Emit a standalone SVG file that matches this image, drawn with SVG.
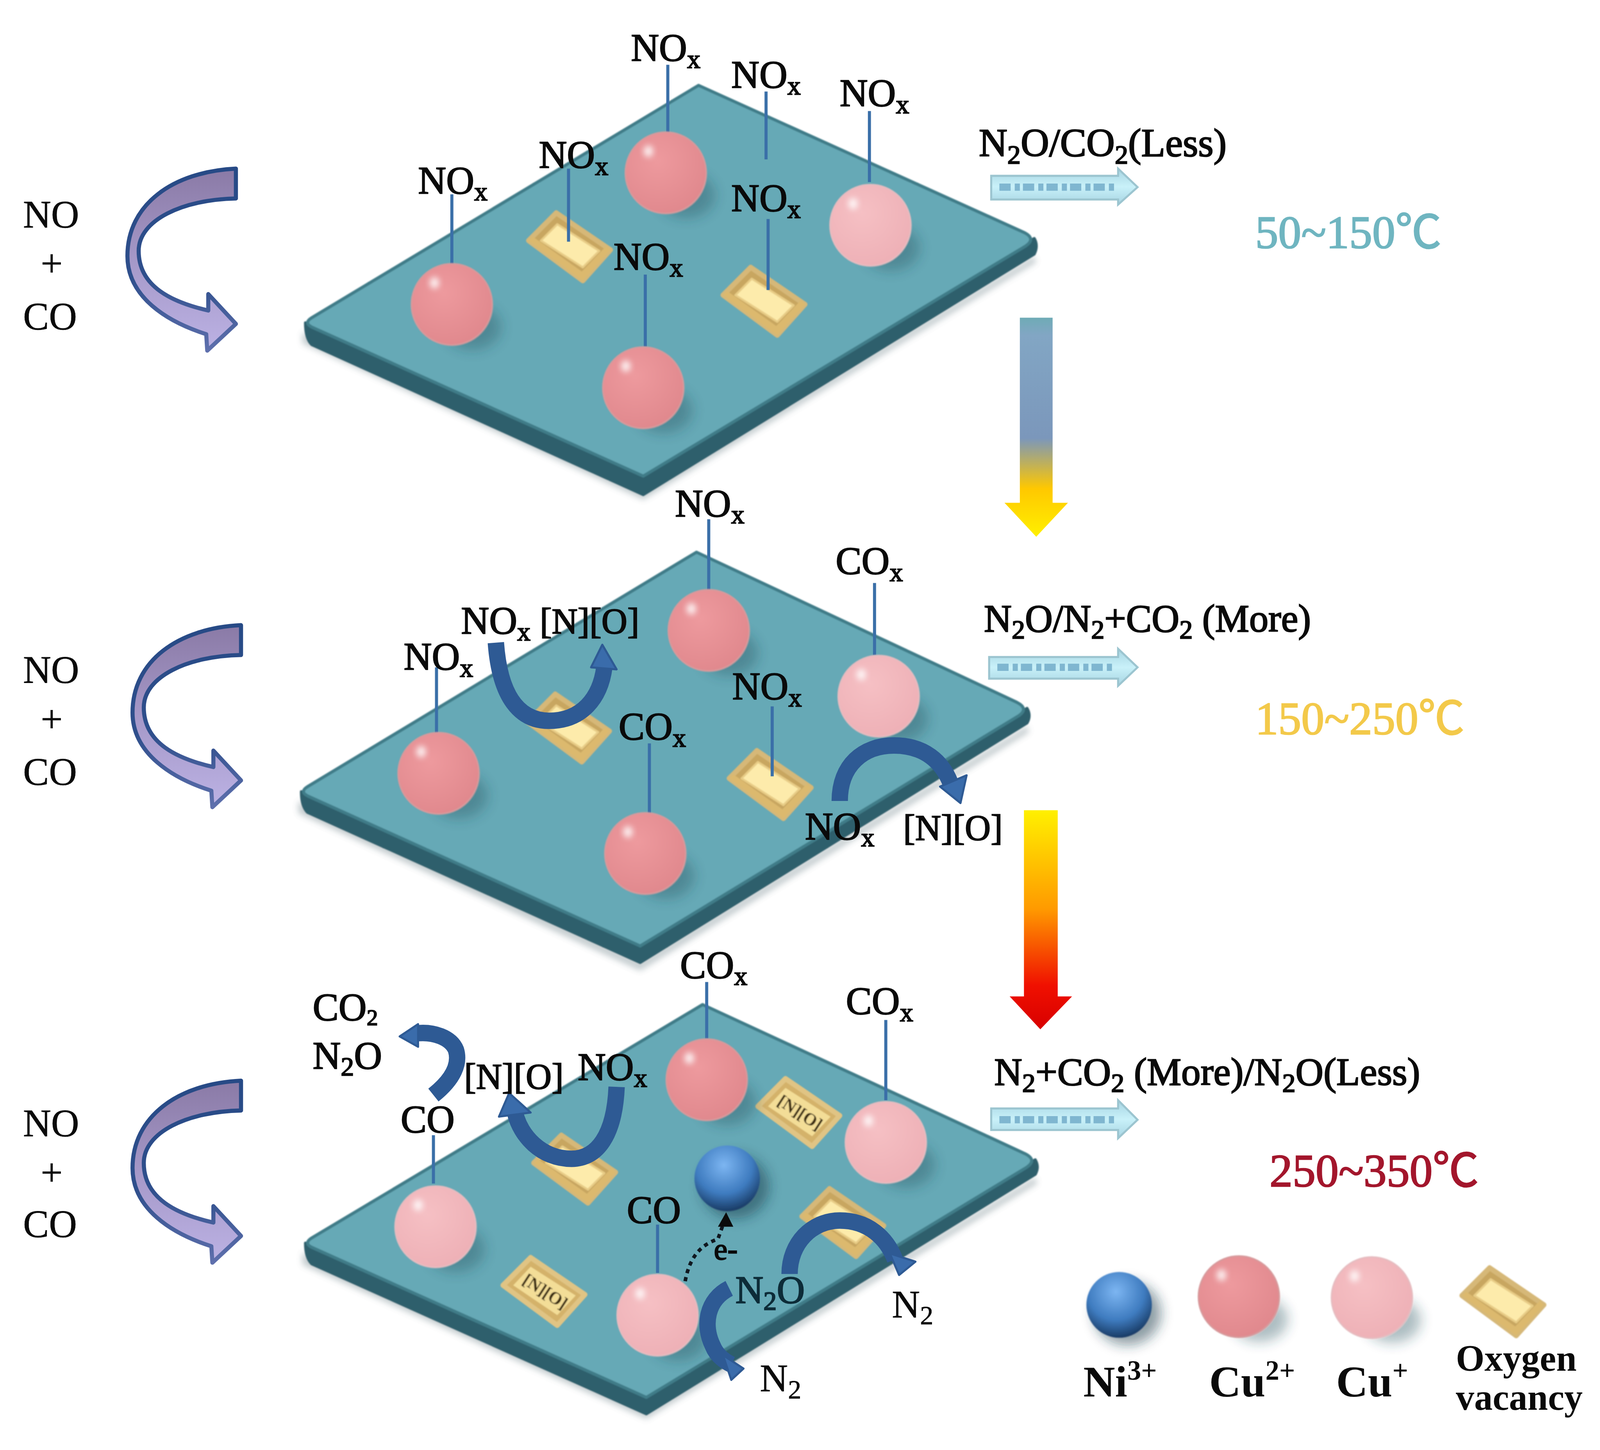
<svg xmlns="http://www.w3.org/2000/svg" width="4108" height="3713" viewBox="0 0 4108 3713">
<style>
text{font-family:"Liberation Serif","Noto Sans CJK SC",serif;fill:#0a0a0a}
.t{font-size:38px;stroke:#0a0a0a;stroke-width:.9px}
.b{font-size:35px;stroke:#0a0a0a;stroke-width:.9px}
.p{font-size:37.500px;stroke:#0a0a0a;stroke-width:1px}
.s{font-size:26px}
.r{font-size:38px;stroke:#0a0a0a;stroke-width:.3px}
.leg{font-size:43px;font-weight:bold}
.leg2{font-size:36px;font-weight:bold}
.temp{font-size:45px;stroke-width:1px}
.vt{font-size:17px;font-weight:bold;fill:#3a2c10}
.top{fill:#66a9b6;stroke:#3f7c88;stroke-width:3;stroke-linejoin:round}
.side{fill:#2f5f6c;stroke:#2f5f6c;stroke-width:3;stroke-linejoin:round}
.stem{stroke:#3a6fa8;stroke-width:3;fill:none}
.curl{fill:none;stroke:#2e5a94;stroke-width:16}
.head{fill:#3a6cab;stroke:#2e5a94;stroke-width:2;stroke-linejoin:round}
.big{fill:url(#purple);stroke:url(#purpleEdge);stroke-width:4;stroke-linejoin:round}
.out{fill:url(#cyan);stroke:#9cc5d0;stroke-width:2}
.tex{stroke:#7fb6d0;stroke-width:7;stroke-dasharray:11 4 5 3;fill:none}
</style>
<defs>
<linearGradient id="purple" x1="0" y1="0" x2="0" y2="1"><stop offset="0" stop-color="#8a7aa6"/><stop offset=".5" stop-color="#a598c8"/><stop offset="1" stop-color="#bcb2e4"/></linearGradient>
<linearGradient id="purpleEdge" x1="0" y1="0" x2="0" y2="1"><stop offset="0" stop-color="#274a86"/><stop offset=".6" stop-color="#2f4f8c"/><stop offset="1" stop-color="#5f70ad"/></linearGradient>
<linearGradient id="cyan" x1="0" y1="0" x2="0" y2="1"><stop offset="0" stop-color="#a6d4e2"/><stop offset=".5" stop-color="#c9f1f9"/><stop offset="1" stop-color="#a6d4e2"/></linearGradient>
<linearGradient id="down1" x1="0" y1="0" x2="0" y2="1"><stop offset="0" stop-color="#6fabb6"/><stop offset=".08" stop-color="#82a6c4"/><stop offset=".55" stop-color="#7b97bb"/><stop offset=".78" stop-color="#ffc800"/><stop offset="1" stop-color="#fff000"/></linearGradient>
<linearGradient id="down2" x1="0" y1="0" x2="0" y2="1"><stop offset="0" stop-color="#fff000"/><stop offset=".45" stop-color="#ff9a00"/><stop offset=".8" stop-color="#f01000"/><stop offset="1" stop-color="#d80000"/></linearGradient>
<radialGradient id="cu2" cx=".4" cy=".35" r=".7"><stop offset="0" stop-color="#ee9a9e"/><stop offset="1" stop-color="#e0888d"/></radialGradient>
<radialGradient id="cu1" cx=".4" cy=".35" r=".7"><stop offset="0" stop-color="#f6c0c4"/><stop offset="1" stop-color="#eeb0b6"/></radialGradient>
<radialGradient id="ni" cx=".45" cy=".3" r=".72"><stop offset="0" stop-color="#7db6f2"/><stop offset=".6" stop-color="#3f7cc0"/><stop offset="1" stop-color="#17375f"/></radialGradient>
<filter id="b3" x="-50%" y="-50%" width="200%" height="200%"><feGaussianBlur stdDeviation="3"/></filter>
<filter id="b6" x="-50%" y="-50%" width="200%" height="200%"><feGaussianBlur stdDeviation="6"/></filter>
<filter id="b1" x="-20%" y="-20%" width="140%" height="140%"><feGaussianBlur stdDeviation=".7"/></filter>
<g id="sCu2"><ellipse cx="20" cy="22" rx="28" ry="22" fill="#2c5560" opacity=".38" filter="url(#b6)"/><circle r="39.500" fill="url(#cu2)" stroke="#d79a9c" stroke-width="1.500"/><ellipse cx="-17" cy="-21" rx="4.500" ry="5.500" fill="#fff" opacity=".9" filter="url(#b3)"/></g>
<g id="sCu1"><ellipse cx="20" cy="22" rx="28" ry="22" fill="#2c5560" opacity=".38" filter="url(#b6)"/><circle r="39.500" fill="url(#cu1)" stroke="#e6bcc0" stroke-width="1.500"/><ellipse cx="-17" cy="-21" rx="4.500" ry="5.500" fill="#fff" opacity=".9" filter="url(#b3)"/></g>
<g id="sNi"><ellipse cx="8" cy="8" rx="33" ry="31" fill="#1d3a48" opacity=".5" filter="url(#b6)"/><circle r="32" fill="url(#ni)"/></g>
<g id="vac"><path d="M-40,-6 L-13,-33 L40,3 L13,33 Z" fill="#c8a660" stroke="#d6b878" stroke-width="5" stroke-linejoin="round"/><path d="M-28,-6 L-12,-22 L29,4 L13,20 Z" fill="#fdebab" stroke="#e8cc86" stroke-width="2" stroke-linejoin="round"/><path d="M-40,-6 L13,33 L40,3 L36,-1 L12,24 L-36,-10 Z" fill="#dcb96e"/></g>
<g id="vacN"><path d="M-40,-6 L-13,-33 L40,3 L13,33 Z" fill="#d4b26a" stroke="#e0c484" stroke-width="5" stroke-linejoin="round"/><path d="M-30,-6 L-13,-24 L31,4 L13,23 Z" fill="#f3dd97"/><text class="vt" transform="rotate(33) translate(-23,5)">[N][O]</text></g>
</defs>
<rect width="4108" height="3713" fill="#fff"/>
<g transform="scale(2.62 2.633) translate(-1.500,-1)">
<g id="plates" filter="url(#b1)">
<g id="plate1"><path d="M297,324 L630,478 L1012,250 L1014,256 L630,487 L297,335 Z" fill="#7d8f94" opacity=".45" filter="url(#b3)"/><path d="M300,315 L630,464 L1012,233 Q1016,240 1012,248 L630,482 L306,336 Q300,330 300,315 Z" class="side"/><path d="M684,84 L1002,227 Q1014,233 1004,240 L630,464 L306,319 Q298,315 306,310 Z" class="top"/></g>
<g id="plate2"><path d="M293,780 L627,936 L1005,707 L1007,713 L627,945 L293,792 Z" fill="#7d8f94" opacity=".45" filter="url(#b3)"/><path d="M296,771 L627,921 L1005,690 Q1009,697 1005,704 L627,937 L302,791 Q296,785 296,771 Z" class="side"/><path d="M682,538 L995,684 Q1007,690 997,697 L627,921 L302,775 Q294,771 302,766 Z" class="top"/></g>
<g id="plate3"><path d="M297,1219 L633,1372 L1013,1146 L1015,1152 L633,1381 L297,1231 Z" fill="#7d8f94" opacity=".45" filter="url(#b3)"/><path d="M300,1210 L633,1360 L1013,1129 Q1017,1136 1013,1143 L633,1376 L306,1230 Q300,1224 300,1210 Z" class="side"/><path d="M688,978 L1003,1123 Q1015,1129 1005,1136 L633,1360 L306,1214 Q298,1210 306,1205 Z" class="top"/></g>
</g>
<g id="vacancies" filter="url(#b1)">
<use id="vac1" href="#vac" x="558" y="241"/>
<use id="vac2" href="#vac" x="748" y="294"/>
<use id="vac3" href="#vac" x="557" y="709"/>
<use id="vac4" href="#vac" x="754" y="764"/>
<use id="vac5" href="#vac" x="563" y="1138"/>
<use id="vac6" href="#vacN" x="782" y="1083"/>
<use id="vac7" href="#vac" x="825" y="1190"/>
<use id="vac8" href="#vacN" x="533" y="1257"/>
<use id="vacLegend" href="#vac" x="1470" y="1267"/>
</g>
<g id="stems">
<path class="stem" d="M654,64V132M750,90V156M851,109V178M557,165V236M752,214V283M632,268V338M443,190V258"/>
<path class="stem" d="M694,506V575M856,568V638M428,650V715M636,724V793M756,688V756"/>
<path class="stem" d="M692,956V1011M867,993V1071M425,1105V1152M644,1192V1239"/>
</g>
<g id="spheres" filter="url(#b1)">
<use id="p1a" href="#sCu2" x="652" y="169"/>
<use id="p1b" href="#sCu2" x="443" y="297"/>
<use id="p1c" href="#sCu2" x="630" y="378"/>
<use id="p1d" href="#sCu1" x="852" y="220"/>
<use id="p2a" href="#sCu2" x="694" y="614"/>
<use id="p2b" href="#sCu2" x="430" y="753"/>
<use id="p2c" href="#sCu2" x="632" y="831"/>
<use id="p2d" href="#sCu1" x="860" y="678"/>
<use id="p3a" href="#sCu2" x="692" y="1051"/>
<use id="p3b" href="#sCu1" x="867" y="1112"/>
<use id="p3c" href="#sCu1" x="427" y="1194"/>
<use id="p3d" href="#sCu1" x="644" y="1280"/>
<use id="p3e" href="#sNi" x="712" y="1147"/>
<use id="legNi" href="#sNi" x="1095" y="1270"/>
<use id="legCu2" href="#sCu2" x="1212" y="1262"/>
<use id="legCu1" href="#sCu1" x="1342" y="1263"/>
</g>
<g id="connectors">
<g id="feed1"><path class="big" d="M232,165 C170,168 126,200 126,250 C126,290 165,314 203,326 L204,342 L232,316 L205,287 L205,303 C170,295 137,280 137,245 C137,215 180,195 232,194 Z"/></g>
<g id="feed2" transform="translate(5,444)"><path class="big" d="M232,165 C170,168 126,200 126,250 C126,290 165,314 203,326 L204,342 L232,316 L205,287 L205,303 C170,295 137,280 137,245 C137,215 180,195 232,194 Z"/></g>
<g id="feed3" transform="translate(5,887)"><path class="big" d="M232,165 C170,168 126,200 126,250 C126,290 165,314 203,326 L204,342 L232,316 L205,287 L205,303 C170,295 137,280 137,245 C137,215 180,195 232,194 Z"/></g>
<path id="down1a" d="M998,310 H1030 V490 H1045 L1014,523 L983,490 H998 Z" fill="url(#down1)"/>
<path id="down2a" d="M1002,789 H1035 V970 H1049 L1018,1002 L988,970 H1002 Z" fill="url(#down2)"/>
<g id="out1"><path class="out" d="M970,172 H1094 V165 L1113,183 L1094,200 V195 H970 Z"/><path class="tex" d="M978,183H1090"/></g>
<g id="out2"><path class="out" d="M968,640 H1094 V632 L1113,650 L1094,668 V661 H968 Z"/><path class="tex" d="M976,650H1088"/></g>
<g id="out3"><path class="out" d="M970,1079 H1094 V1071 L1113,1090 L1094,1108 V1100 H970 Z"/><path class="tex" d="M978,1090H1090"/></g>
<g id="curl1"><path class="curl" d="M486,626 C490,680 510,702 538,702 C570,702 588,680 592,650"/><path class="head" d="M590,628 L604,652 L579,650 Z"/></g>
<g id="curl2"><path class="curl" d="M822,780 C822,745 845,726 875,726 C905,726 922,742 930,762"/><path class="head" d="M940,782 L946,755 L920,766 Z"/></g>
<g id="curl3"><path class="curl" stroke-width="13" d="M425,1066 C445,1050 451,1035 447,1022 C442,1010 425,1004 408,1006"/><path class="head" d="M392,1009 L410,997 L410,1019 Z"/></g>
<g id="curl4"><path class="curl" d="M604,1058 C602,1105 585,1128 560,1128 C530,1128 510,1105 505,1084"/><path class="head" d="M499,1064 L520,1083 L489,1087 Z"/></g>
<g id="curl5"><path class="curl" stroke-width="14" d="M773,1240 C773,1210 795,1188 822,1188 C850,1188 868,1205 876,1226"/><path class="head" d="M896,1228 L880,1241 L871,1220 Z"/></g>
<g id="curl6"><path class="curl" stroke-width="12" d="M714,1254 C692,1265 688,1290 698,1310 C702,1320 710,1325 716,1328"/><path class="head" d="M728,1332 L716,1343 L708,1319 Z"/></g>
<path id="electron" d="M671,1247 C675,1225 685,1212 703,1206 L708,1192" fill="none" stroke="#101820" stroke-width="3.500" stroke-dasharray="4 4"/>
<path id="electronHead" d="M711,1180 L703,1194 L718,1194 Z" fill="#0b0b0b"/>
</g>
<g id="labels1">
<text class="t" x="618" y="60">NO<tspan class="s" dy="7">x</tspan></text>
<text class="t" x="716" y="86">NO<tspan class="s" dy="7">x</tspan></text>
<text class="t" x="822" y="104">NO<tspan class="s" dy="7">x</tspan></text>
<text class="t" x="528" y="164">NO<tspan class="s" dy="7">x</tspan></text>
<text class="t" x="716" y="206">NO<tspan class="s" dy="7">x</tspan></text>
<text class="t" x="601" y="263">NO<tspan class="s" dy="7">x</tspan></text>
<text class="t" x="410" y="189">NO<tspan class="s" dy="7">x</tspan></text>
<text class="p" x="958" y="153" style="font-size:38.500px">N<tspan class="s" dy="7">2</tspan><tspan dy="-7">O/CO</tspan><tspan class="s" dy="7">2</tspan><tspan dy="-7">(Less)</tspan></text>
<text class="temp" x="1228" y="242" style="fill:#6fb5c0;stroke:#6fb5c0">50~150℃</text>
</g>
<g id="labels2">
<text class="t" x="661" y="503">NO<tspan class="s" dy="7">x</tspan></text>
<text class="t" x="818" y="559">CO<tspan class="s" dy="7">x</tspan></text>
<text class="t" x="452" y="617">NO<tspan class="s" dy="7">x</tspan></text>
<text class="b" x="529" y="617">[N][O]</text>
<text class="t" x="396" y="652">NO<tspan class="s" dy="7">x</tspan></text>
<text class="t" x="717" y="681">NO<tspan class="s" dy="7">x</tspan></text>
<text class="t" x="606" y="720">CO<tspan class="s" dy="7">x</tspan></text>
<text class="t" x="788" y="817">NO<tspan class="s" dy="7">x</tspan></text>
<text class="b" x="884" y="818">[N][O]</text>
<text class="p" x="963" y="615">N<tspan class="s" dy="7">2</tspan><tspan dy="-7">O/N</tspan><tspan class="s" dy="7">2</tspan><tspan dy="-7">+CO</tspan><tspan class="s" dy="7">2</tspan><tspan dy="-7"> (More)</tspan></text>
<text class="temp" x="1228" y="715" style="fill:#f3c94a;stroke:#f3c94a">150~250℃</text>
</g>
<g id="labels3">
<text class="t" x="666" y="952">CO<tspan class="s" dy="7">x</tspan></text>
<text class="t" x="828" y="987">CO<tspan class="s" dy="7">x</tspan></text>
<text class="t" x="307" y="993">CO<tspan style="font-size:22px" dy="5">2</tspan></text>
<text class="t" x="307" y="1040">N<tspan class="s" dy="7">2</tspan><tspan dy="-7">O</tspan></text>
<text class="b" x="455" y="1060">[N][O]</text>
<text class="t" x="566" y="1051">NO<tspan class="s" dy="7">x</tspan></text>
<text class="t" x="393" y="1102">CO</text>
<text class="t" x="614" y="1190">CO</text>
<text class="t" x="699" y="1226" style="font-size:30px">e-</text>
<text class="t" x="720" y="1268" style="fill:#0d2c38;stroke:#0d2c38">N<tspan class="s" dy="7">2</tspan><tspan dy="-7">O</tspan></text>
<text class="r" x="873" y="1282">N<tspan class="s" dy="7">2</tspan></text>
<text class="r" x="744" y="1354">N<tspan class="s" dy="7">2</tspan></text>
<text class="p" x="973" y="1056" style="font-size:37.800px">N<tspan class="s" dy="7">2</tspan><tspan dy="-7">+CO</tspan><tspan class="s" dy="7">2</tspan><tspan dy="-7"> (More)/N</tspan><tspan class="s" dy="7">2</tspan><tspan dy="-7">O(Less)</tspan></text>
<text class="temp" x="1242" y="1155" style="fill:#a3162c;stroke:#a3162c">250~350℃</text>
</g>
<g id="reactants">
<text class="r" x="24" y="222">NO</text><text class="r" x="52" y="270" text-anchor="middle">+</text><text class="r" x="24" y="321">CO</text>
<text class="r" x="24" y="665">NO</text><text class="r" x="52" y="713" text-anchor="middle">+</text><text class="r" x="24" y="764">CO</text>
<text class="r" x="24" y="1106">NO</text><text class="r" x="52" y="1154" text-anchor="middle">+</text><text class="r" x="24" y="1204">CO</text>
</g>
<g id="legendText">
<text class="leg" x="1060" y="1359">Ni<tspan style="font-size:27px" dy="-16">3+</tspan></text>
<text class="leg" x="1183" y="1359">Cu<tspan style="font-size:27px" dy="-16">2+</tspan></text>
<text class="leg" x="1307" y="1359">Cu<tspan style="font-size:27px" dy="-16">+</tspan></text>
<text class="leg2" x="1424" y="1334">Oxygen</text>
<text class="leg2" x="1424" y="1372">vacancy</text>
</g>
</g>
</svg>
